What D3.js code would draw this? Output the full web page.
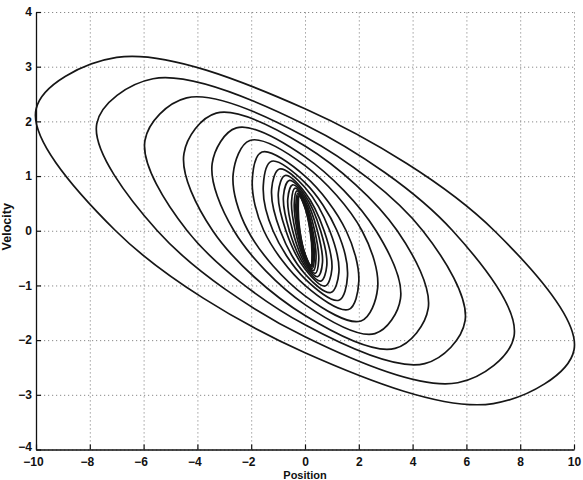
<!DOCTYPE html>
<html>
<head>
<meta charset="utf-8">
<script src="https://cdn.jsdelivr.net/npm/d3@7"></script>
<style>
  body { margin: 0; background: #fff; }
  svg { display: block; }
</style>
</head>
<body>
<div id="chart"></div>
<script>
const xTicks = [-10, -8, -6, -4, -2, 0, 2, 4, 6, 8, 10]
const yTicks = [-4, -3, -2, -1, 0, 1, 2, 3, 4]

// every loop of the phase portrait at eight points
// (leftmost, top, crossing of x = 0, crossing of y = 0, rightmost, bottom, ...)
const leftX = [-10, -7.74, -5.95, -4.5, -3.45, -2.67, -1.96, -1.55, -1.24, -0.99, -0.8, -0.64, -0.5, -0.4, -0.34, -0.3, -0.27, -0.25]
const leftY = [2.22, 1.96, 1.65, 1.41, 1.23, 1.04, 0.92, 0.83, 0.76, 0.7, 0.64, 0.58, 0.54, 0.5, 0.47, 0.45, 0.43, 0.42]
const topX = [-7.0, -5.65, -4.4, -3.3, -2.55, -2.05, -1.6, -1.24, -0.95, -0.74, -0.58, -0.46, -0.37, -0.3, -0.26, -0.24, -0.22, -0.21]
const topY = [3.17, 2.78, 2.43, 2.15, 1.88, 1.65, 1.44, 1.27, 1.13, 1.01, 0.92, 0.84, 0.78, 0.73, 0.69, 0.66, 0.64, 0.63]
const upperCross = [2.23, 1.94, 1.72, 1.55, 1.35, 1.19, 1.0, 0.88, 0.79, 0.7, 0.65, 0.6, 0.55, 0.51, 0.48, 0.45, 0.43, 0.42]
const rightCross = [7.04, 5.49, 4.38, 3.43, 2.64, 2.12, 1.53, 1.19, 0.92, 0.71, 0.58, 0.46, 0.36, 0.29, 0.25, 0.22, 0.2, 0.19]
const rightX = [10, 7.77, 5.95, 4.58, 3.55, 2.7, 2.0, 1.58, 1.26, 1.0, 0.81, 0.65, 0.51, 0.41, 0.35, 0.31, 0.28, 0.26]
const rightY = [-2.18, -1.93, -1.65, -1.42, -1.24, -1.05, -0.93, -0.83, -0.76, -0.7, -0.64, -0.58, -0.54, -0.5, -0.47, -0.45, -0.43, -0.42]
const bottomX = [7.0, 5.68, 4.45, 3.35, 2.6, 2.08, 1.62, 1.26, 0.96, 0.75, 0.59, 0.47, 0.38, 0.31, 0.27, 0.25, 0.23, 0.22]
const bottomY = [-3.16, -2.78, -2.43, -2.15, -1.88, -1.65, -1.44, -1.27, -1.13, -1.01, -0.92, -0.84, -0.78, -0.73, -0.69, -0.66, -0.64, -0.63]
const lowerCross = [-2.23, -1.94, -1.72, -1.55, -1.35, -1.19, -1.0, -0.88, -0.79, -0.7, -0.65, -0.6, -0.55, -0.51, -0.48, -0.45, -0.43, -0.42]
const leftCross = [-7.04, -5.49, -4.38, -3.43, -2.64, -2.12, -1.53, -1.19, -0.92, -0.71, -0.58, -0.46, -0.36, -0.29, -0.25, -0.22, -0.2, -0.19]

const width = 583
const height = 480

const x = d3.scaleLinear().domain([-10, 10]).range([36, 574])
const y = d3.scaleLinear().domain([-4, 4]).range([449.5, 12])

const svg = d3
  .select('#chart')
  .append('svg')
  .attr('width', width)
  .attr('height', height)
  .style('font-family', '"Liberation Sans", Arial, sans-serif')

// dotted grid
const gridX = svg
  .append('g')
  .attr('transform', `translate(0,${y(-4)})`)
  .call(d3.axisBottom(x).tickValues(xTicks).tickSize(-(y(-4) - y(4))).tickFormat(''))
const gridY = svg
  .append('g')
  .attr('transform', `translate(${x(-10)},0)`)
  .call(d3.axisLeft(y).tickValues(yTicks).tickSize(-(x(10) - x(-10))).tickFormat(''))

;[gridX, gridY].forEach(g => {
  g.select('.domain').remove()
  g.selectAll('line')
    .attr('stroke', '#8a8a8a')
    .attr('stroke-width', 1)
    .attr('stroke-dasharray', '1.2,2.8')
})

// the loops
const line = d3
  .line()
  .x(d => x(d[0]))
  .y(d => y(d[1]))
  .curve(d3.curveCatmullRomClosed.alpha(0.5))

const loops = leftX.map((_, i) => [
  [leftX[i], leftY[i]],
  [topX[i], topY[i]],
  [0, upperCross[i]],
  [rightCross[i], 0],
  [rightX[i], rightY[i]],
  [bottomX[i], bottomY[i]],
  [0, lowerCross[i]],
  [leftCross[i], 0],
])

svg
  .append('g')
  .selectAll('path')
  .data(loops)
  .join('path')
  .attr('d', line)
  .attr('fill', 'none')
  .attr('stroke', '#161616')
  .attr('stroke-width', 1.7)

// axes with inward ticks
const xAxis = svg
  .append('g')
  .attr('transform', `translate(0,${y(-4)})`)
  .call(d3.axisBottom(x).tickValues(xTicks).tickSizeInner(-5).tickSizeOuter(0).tickPadding(8))
const yAxis = svg
  .append('g')
  .attr('transform', `translate(${x(-10)},0)`)
  .call(d3.axisLeft(y).tickValues(yTicks).tickSizeInner(-5).tickSizeOuter(0).tickPadding(4))

;[xAxis, yAxis].forEach(g => {
  g.select('.domain').attr('stroke', '#111').attr('stroke-width', 1.3)
  g.selectAll('line').attr('stroke', '#111').attr('stroke-width', 1.2)
  g.selectAll('text')
    .attr('fill', '#111')
    .attr('font-size', '12px')
    .attr('font-weight', 'bold')
    .attr('font-family', '"Liberation Sans", Arial, sans-serif')
})
// negative labels sit a little left of their tick in the original
xAxis.selectAll('text').attr('dx', d => (d < 0 ? -3 : 0))
// lowest y label is lifted a touch so it clears the corner label below it
yAxis.selectAll('text').attr('dy', d => (d === -4 ? '0.05em' : '0.32em'))

svg
  .append('text')
  .attr('x', (x(-10) + x(10)) / 2)
  .attr('y', 478.5)
  .attr('text-anchor', 'middle')
  .attr('font-size', '11px')
  .attr('font-weight', 'bold')
  .attr('fill', '#111')
  .text('Position')

svg
  .append('text')
  .attr('transform', `translate(11,${y(0) - 4}) rotate(-90)`)
  .attr('text-anchor', 'middle')
  .attr('font-size', '12.5px')
  .attr('font-weight', 'bold')
  .attr('fill', '#111')
  .text('Velocity')
</script>
</body>
</html>
